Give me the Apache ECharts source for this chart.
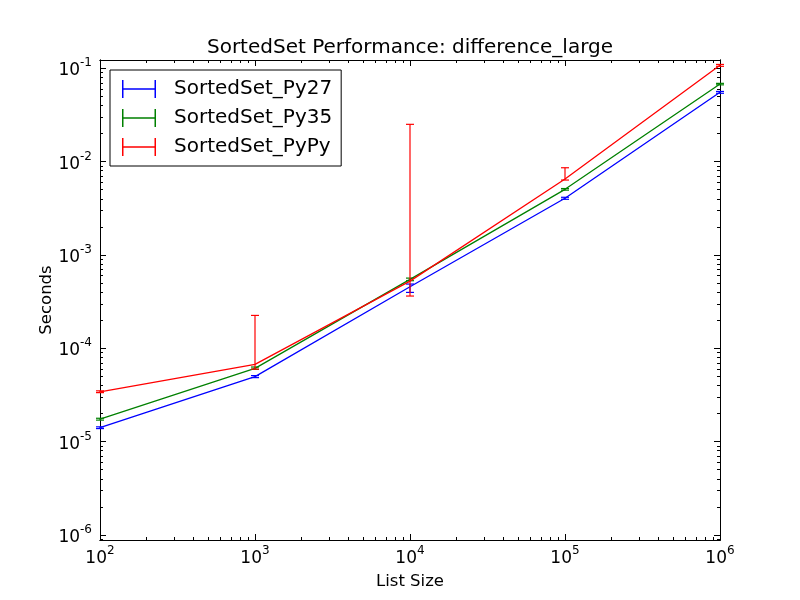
<!DOCTYPE html>
<html>
<head>
<meta charset="utf-8">
<title>SortedSet Performance: difference_large</title>
<script src="https://cdn.jsdelivr.net/npm/echarts@6/dist/echarts.min.js"></script>
<style>
html, body { margin: 0; padding: 0; background: #fff; }
#chart { width: 800px; height: 600px; }
</style>
</head>
<body>
<div id="chart"></div>
<script>
// list sizes (x)
var sizes = [100, 1000, 10000, 100000, 1000000];

// seconds
var py27 = [1.41e-5, 4.97e-5, 4.56e-4, 4.05e-3, 0.0553];
var py27Lo = [1.38e-5, 4.85e-5, 3.97e-4, 3.95e-3, 0.0540];
var py27Hi = [1.44e-5, 5.1e-5, 4.88e-4, 4.15e-3, 0.0565];

var py35 = [1.74e-5, 6.1e-5, 5.48e-4, 5.05e-3, 0.0679];
var py35Lo = [1.7e-5, 5.95e-5, 5.3e-4, 4.95e-3, 0.0665];
var py35Hi = [1.78e-5, 6.3e-5, 5.65e-4, 5.15e-3, 0.0690];

var pypy = [3.42e-5, 6.72e-5, 5.25e-4, 6.52e-3, 0.108];
var pypyLo = [3.35e-5, 5.98e-5, 3.63e-4, 6.35e-3, 0.105];
var pypyHi = [3.5e-5, 2.25e-4, 0.0251, 8.6e-3, 0.110];

// tick exponents
var xTickExp = [2, 3, 4, 5, 6];
var yTickExp = [-6, -5, -4, -3, -2, -1];

var names = ['SortedSet_Py27', 'SortedSet_Py35', 'SortedSet_PyPy'];
var colors = ['#0000ff', '#008000', '#ff0000'];

var myChart = echarts.init(document.getElementById('chart'), null, {renderer: 'canvas'});

var lg = function (v) { return Math.log10(v); };

// minor ticks 2..9 in every decade
function minorTicks(from, to, lo, hi) {
	var out = [];
	for (var d = from; d <= to; d++) {
		for (var k = 2; k <= 9; k++) {
			var v = d + Math.log10(k);
			if (v > lo && v < hi) out.push(v);
		}
	}
	return out;
}

var xMin = 2, xMax = 6;
var yMin = -6.054, yMax = -0.911;
var xMinor = minorTicks(2, 5, xMin, xMax);
var yMinor = minorTicks(-7, -1, yMin, yMax);

function lineData(vals) {
	var arr = [];
	for (var i = 0; i < sizes.length; i++) arr.push([lg(sizes[i]), lg(vals[i])]);
	return arr;
}
function errData(lo, hi) {
	var arr = [];
	for (var i = 0; i < sizes.length; i++) arr.push([lg(sizes[i]), lg(lo[i]), lg(hi[i])]);
	return arr;
}

// vertical bar with caps
function renderErr(color) {
	return function (params, api) {
		var x = api.value(0);
		var pLo = api.coord([x, api.value(1)]);
		var pHi = api.coord([x, api.value(2)]);
		var cap = 4;
		var st = {stroke: color, lineWidth: 1.2};
		return {
			type: 'group',
			children: [
				{type: 'line', shape: {x1: pLo[0], y1: pLo[1], x2: pHi[0], y2: pHi[1]}, style: st},
				{type: 'line', shape: {x1: pLo[0] - cap, y1: pLo[1], x2: pLo[0] + cap, y2: pLo[1]}, style: st},
				{type: 'line', shape: {x1: pHi[0] - cap, y1: pHi[1], x2: pHi[0] + cap, y2: pHi[1]}, style: st}
			]
		};
	};
}

var labelRich = {
	b: {fontSize: 17, fontFamily: 'DejaVu Sans', color: '#000', lineHeight: 22, verticalAlign: 'bottom'},
	s: {fontSize: 12, fontFamily: 'DejaVu Sans', color: '#000', lineHeight: 12, verticalAlign: 'top'}
};
function powLabel(v) {
	return '{b|10}{s|' + Math.round(v) + '}';
}

var axisLine = {show: true, onZero: false, lineStyle: {color: '#000', width: 1}};

function xAx(pos, ticks, len, labels) {
	return {
		type: 'value', position: pos, min: xMin, max: xMax, gridIndex: 0,
		axisLine: axisLine,
		splitLine: {show: false},
		axisTick: {show: true, inside: true, length: len, customValues: ticks, lineStyle: {color: '#000'}},
		axisLabel: labels ? {show: true, customValues: xTickExp, formatter: powLabel, rich: labelRich, margin: 5}
			: {show: false},
		name: labels ? 'List Size' : '',
		nameLocation: 'middle', nameGap: 33, nameMoveOverlap: false,
		nameTextStyle: {fontFamily: 'DejaVu Sans', fontSize: 16.5, color: '#000'}
	};
}
function yAx(pos, ticks, len, labels) {
	return {
		type: 'value', position: pos, min: yMin, max: yMax, gridIndex: 0,
		axisLine: axisLine,
		splitLine: {show: false},
		axisTick: {show: true, inside: true, length: len, customValues: ticks, lineStyle: {color: '#000'}},
		axisLabel: labels ? {show: true, customValues: yTickExp, formatter: powLabel, rich: labelRich, margin: 8}
			: {show: false},
		name: labels ? 'Seconds' : '',
		nameLocation: 'middle', nameGap: 45, nameRotate: 90, nameMoveOverlap: false,
		nameTextStyle: {fontFamily: 'DejaVu Sans', fontSize: 16.5, color: '#000'}
	};
}

var xAxes = [
	xAx('bottom', xTickExp, 6, true),
	xAx('bottom', xMinor, 3, false),
	xAx('top', xTickExp, 6, false),
	xAx('top', xMinor, 3, false)
];
var yAxes = [
	yAx('left', yTickExp, 6, true),
	yAx('left', yMinor, 3, false),
	yAx('right', yTickExp, 6, false),
	yAx('right', yMinor, 3, false)
];

var allVals = [py27, py35, pypy];
var allLo = [py27Lo, py35Lo, pypyLo];
var allHi = [py27Hi, py35Hi, pypyHi];

// legend entries come from the error bar series (path icon),
// the lines get their own names so they don't take over the legend icon
var series = [];
for (var i = 0; i < 3; i++) {
	series.push({
		name: names[i], type: 'custom', data: errData(allLo[i], allHi[i]),
		renderItem: renderErr(colors[i]), animation: false,
		encode: {x: 0, y: [1, 2]},
		itemStyle: {color: colors[i]},
		z: 3 + i
	});
	series.push({
		name: names[i] + ' line', type: 'line', data: lineData(allVals[i]),
		showSymbol: false, symbol: 'none', animation: false,
		lineStyle: {color: colors[i], width: 1.3},
		itemStyle: {color: colors[i]},
		z: 3 + i
	});
}

var errIcon = 'path://M0,0h1.5v18h-1.5z M0,8.25h34v1.5h-34z M32.5,0h1.5v18h-1.5z';

var option = {
	backgroundColor: '#fff',
	animation: false,
	title: {
		text: 'SortedSet Performance: difference_large',
		left: 405, top: 33, textAlign: 'center',
		textStyle: {fontFamily: 'DejaVu Sans', fontSize: 20, fontWeight: 'normal', color: '#000'}
	},
	grid: {left: 100, right: 80, top: 60, bottom: 60, containLabel: false},
	legend: {
		orient: 'vertical', left: 110, top: 70,
		padding: [9, 9, 9, 12],
		itemWidth: 34, itemHeight: 18, itemGap: 9,
		backgroundColor: '#fff', borderColor: '#000', borderWidth: 1, borderRadius: 0,
		textStyle: {fontFamily: 'DejaVu Sans', fontSize: 20, color: '#000', lineHeight: 20, padding: [0, 0, 0, 13]},
		data: [
			{name: names[0], icon: errIcon, itemStyle: {color: colors[0]}},
			{name: names[1], icon: errIcon, itemStyle: {color: colors[1]}},
			{name: names[2], icon: errIcon, itemStyle: {color: colors[2]}}
		]
	},
	xAxis: xAxes,
	yAxis: yAxes,
	series: series
};

myChart.setOption(option);
</script>
</body>
</html>
